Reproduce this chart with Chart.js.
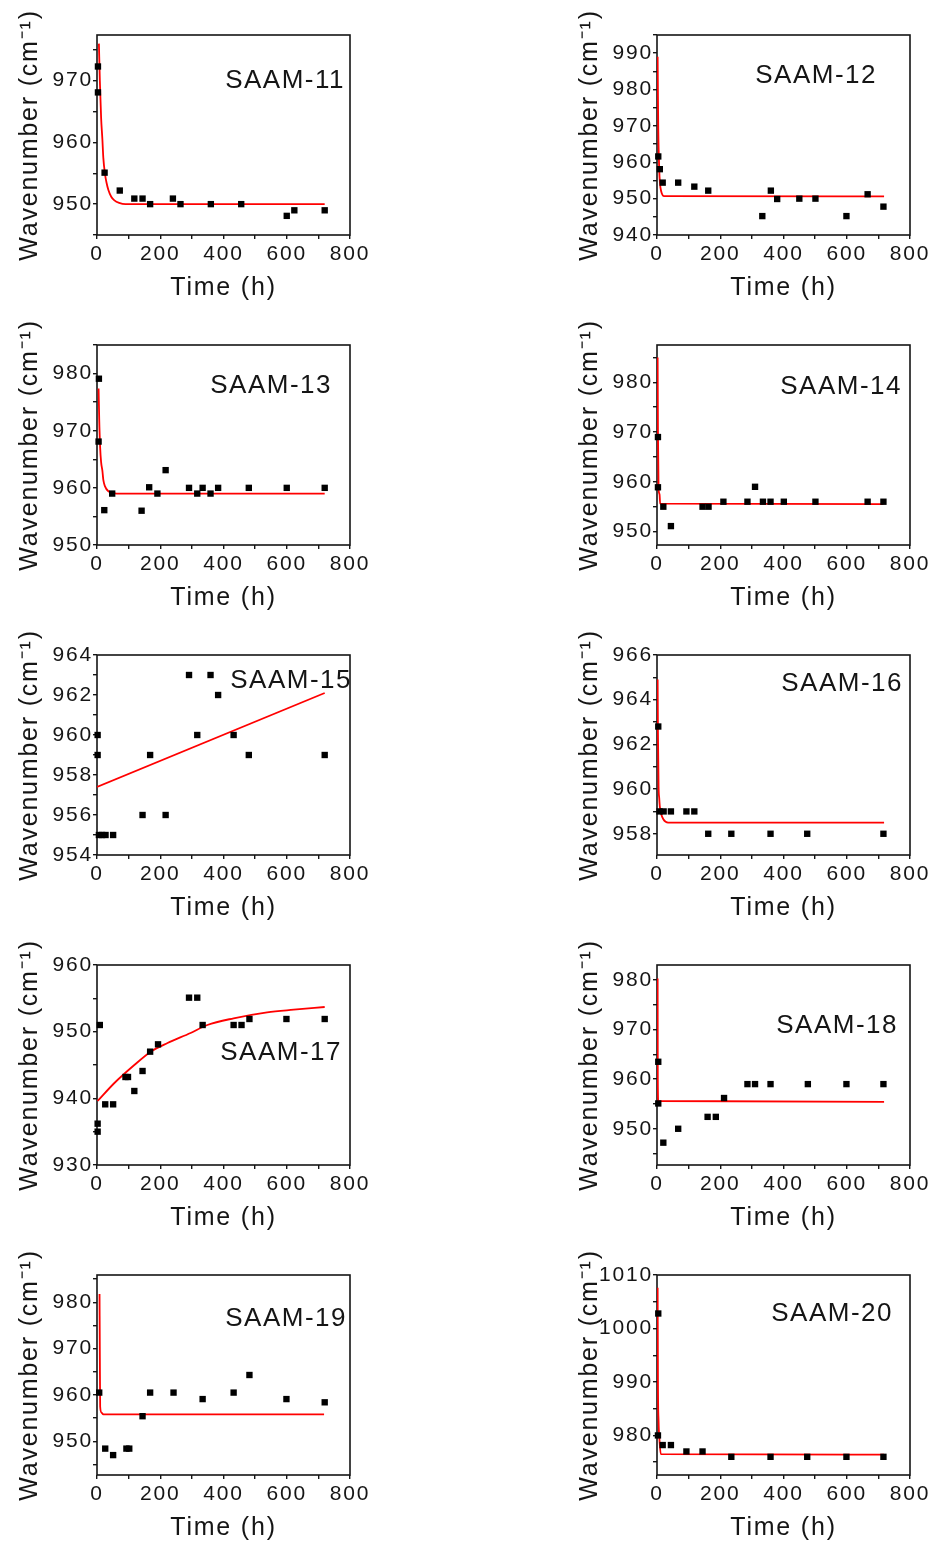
<!DOCTYPE html>
<html>
<head>
<meta charset="utf-8">
<script src="https://cdn.jsdelivr.net/npm/chart.js"></script>
<style>
  body { margin: 0; background: #fff; width: 936px; height: 1555px; position: relative; overflow: hidden; }
  canvas { position: absolute; }
</style>
</head>
<body>
<script>
// ---- data (time in h, wavenumber in cm-1) ----
const xTicks = [0, 200, 400, 600, 800];

const saam11Time = [3, 3, 24, 72, 118, 144, 168, 240, 264, 360, 456, 600, 624, 720];
const saam11Wave = [972.3, 968.1, 955.1, 952.2, 950.9, 950.9, 950, 950.9, 950, 950, 950, 948.1, 949, 949];
const saam11FitTime = [6, 9, 13, 17, 20, 25, 30, 36, 45, 55, 70, 90, 720];
const saam11FitWave = [976, 970, 964, 960.5, 957.5, 955, 953.5, 952.3, 951.2, 950.6, 950.2, 950, 950];

const saam12Time = [4, 9, 18, 67, 118, 162, 333, 360, 380, 450, 501, 599, 666, 716];
const saam12Wave = [961.6, 958.1, 954.4, 954.4, 953.3, 952.2, 945.2, 952.2, 949.9, 950, 950, 945.2, 951.2, 947.8];
const saam12FitTime = [2, 3, 4, 6, 8, 11, 15, 22, 718];
const saam12FitWave = [989, 978, 969, 961, 956, 953, 951.5, 950.7, 950.6];

const saam13Time = [6, 5, 23, 48, 141, 165, 191, 217, 291, 317, 334, 359, 383, 480, 600, 720];
const saam13Wave = [979.1, 968.1, 956.1, 959, 956, 960.1, 959, 963.1, 960, 959, 960, 959, 960, 960, 960, 960];
const saam13FitTime = [5, 7, 10, 13, 17, 20, 25, 36, 62, 720];
const saam13FitWave = [977.4, 972, 967, 964.5, 963, 961.4, 960.3, 959.4, 959, 959];

const saam14Time = [3, 3, 20, 44, 144, 163, 210, 286, 310, 335, 359, 401, 501, 666, 716];
const saam14Wave = [969, 958.9, 955, 951.1, 955, 955, 956, 956, 959, 956, 956, 956, 956, 956, 956];
const saam14FitTime = [2, 3, 5, 8, 10, 716];
const saam14FitWave = [985, 970, 958.5, 957.5, 955.6, 955.5];

const saam15Time = [2, 2, 6, 16, 27, 51, 144, 168, 217, 291, 317, 359, 383, 432, 480, 720];
const saam15Wave = [960, 959, 955, 955, 955, 955, 956, 959, 956, 963, 960, 963, 962, 960, 959, 959];
const saam15FitTime = [0, 720];
const saam15FitWave = [957.4, 962.1];

const saam16Time = [4, 8, 21, 44, 93, 118, 162, 235, 359, 475, 716];
const saam16Wave = [962.8, 959, 959, 959, 959, 959, 958, 958, 958, 958, 958];
const saam16FitTime = [2, 3, 5, 7, 9, 13, 20, 35, 718];
const saam16FitWave = [964.9, 962.5, 960.1, 959.6, 959.2, 958.9, 958.65, 958.5, 958.5];

const saam17Time = [2, 2, 9, 26, 51, 90, 98, 118, 144, 168, 193, 291, 317, 334, 432, 457, 482, 599, 720];
const saam17Wave = [936.2, 935, 951, 939.1, 939.1, 943.2, 943.2, 941.1, 944.1, 947, 948.1, 955.1, 955.1, 951, 951, 951, 951.9, 951.9, 951.9];
const saam17FitTime = [2, 55, 118, 170, 223, 296, 349, 432, 538, 622, 720];
const saam17FitWave = [939.6, 942.3, 945, 947, 948.3, 949.8, 951, 952, 952.9, 953.3, 953.7];

const saam18Time = [4, 4, 20, 67, 160, 186, 212, 286, 310, 359, 477, 599, 716];
const saam18Wave = [963.5, 955.1, 947.2, 950, 952.4, 952.4, 956.2, 959, 959, 959, 959, 959, 959];
const saam18FitTime = [2, 2.5, 4, 718];
const saam18FitWave = [980.3, 960, 955.6, 955.4];

const saam19Time = [7, 26, 51, 93, 102, 144, 168, 242, 334, 432, 482, 599, 720];
const saam19Wave = [960.5, 948.4, 947, 948.4, 948.4, 955.4, 960.5, 960.5, 959.1, 960.5, 964.3, 959.1, 958.4];
const saam19FitTime = [8, 9, 10, 14, 20, 718];
const saam19FitWave = [981.8, 968, 957.5, 956.2, 955.8, 955.8];

const saam20Time = [4, 3, 18, 44, 93, 144, 235, 359, 475, 599, 716];
const saam20Wave = [1002.8, 980, 978.2, 978.2, 977, 977, 976, 976, 976, 976, 976];
const saam20FitTime = [2, 3, 5, 8, 12, 718];
const saam20FitWave = [1007.6, 990, 982.6, 979, 976.5, 976.4];

// y axis ranges and major tick labels
const saam11Y = [945, 977.4], saam11Ticks = [950, 960, 970];
const saam12Y = [940, 995], saam12Ticks = [940, 950, 960, 970, 980, 990];
const saam13Y = [950, 985], saam13Ticks = [950, 960, 970, 980];
const saam14Y = [947.3, 987.5], saam14Ticks = [950, 960, 970, 980];
const saam15Y = [954, 964], saam15Ticks = [954, 956, 958, 960, 962, 964];
const saam16Y = [957.05, 966], saam16Ticks = [958, 960, 962, 964, 966];
const saam17Y = [930, 960], saam17Ticks = [930, 940, 950, 960];
const saam18Y = [942.7, 983], saam18Ticks = [950, 960, 970, 980];
const saam19Y = [942.7, 985.9], saam19Ticks = [950, 960, 970, 980];
const saam20Y = [972.6, 1010], saam20Ticks = [980, 990, 1000, 1010];

const panels = [
  { name: 'SAAM-11', t: saam11Time, w: saam11Wave, ft: saam11FitTime, fw: saam11FitWave, y: saam11Y, ticks: saam11Ticks },
  { name: 'SAAM-12', t: saam12Time, w: saam12Wave, ft: saam12FitTime, fw: saam12FitWave, y: saam12Y, ticks: saam12Ticks },
  { name: 'SAAM-13', t: saam13Time, w: saam13Wave, ft: saam13FitTime, fw: saam13FitWave, y: saam13Y, ticks: saam13Ticks },
  { name: 'SAAM-14', t: saam14Time, w: saam14Wave, ft: saam14FitTime, fw: saam14FitWave, y: saam14Y, ticks: saam14Ticks },
  { name: 'SAAM-15', t: saam15Time, w: saam15Wave, ft: saam15FitTime, fw: saam15FitWave, y: saam15Y, ticks: saam15Ticks },
  { name: 'SAAM-16', t: saam16Time, w: saam16Wave, ft: saam16FitTime, fw: saam16FitWave, y: saam16Y, ticks: saam16Ticks },
  { name: 'SAAM-17', t: saam17Time, w: saam17Wave, ft: saam17FitTime, fw: saam17FitWave, y: saam17Y, ticks: saam17Ticks },
  { name: 'SAAM-18', t: saam18Time, w: saam18Wave, ft: saam18FitTime, fw: saam18FitWave, y: saam18Y, ticks: saam18Ticks },
  { name: 'SAAM-19', t: saam19Time, w: saam19Wave, ft: saam19FitTime, fw: saam19FitWave, y: saam19Y, ticks: saam19Ticks },
  { name: 'SAAM-20', t: saam20Time, w: saam20Wave, ft: saam20FitTime, fw: saam20FitWave, y: saam20Y, ticks: saam20Ticks },
];

// where each panel name sits: [gap from right edge of plot, cap centre below plot top]
const labelSpots = [[5, 46], [33, 41], [18, 41], [8, 42], [-2, 26], [7, 29], [8, 88], [12, 61], [3, 44], [17, 39]];

const INK = '#151515';
const FONT = '"Liberation Sans", Arial, sans-serif';

// half-step minor ticks between (and just outside) the labelled ones
function withMinor(major, lo, hi) {
  const step = major[1] - major[0];
  const out = [];
  for (let v = major[0] - step; v <= major[major.length - 1] + step + 1e-9; v += step / 2) {
    if (v >= lo - 1e-9 && v <= hi + 1e-9) out.push(+v.toFixed(3));
  }
  return out;
}

const framePlugin = {
  id: 'frame',
  beforeDraw(chart) {
    chart.ctx.letterSpacing = '1.8px';
  },
  beforeDatasetsDraw(chart) {
    const { ctx, chartArea: a } = chart;
    ctx.save();
    ctx.strokeStyle = INK;
    ctx.lineWidth = 1.6;
    ctx.strokeRect(a.left, a.top, a.right - a.left, a.bottom - a.top);
    ctx.restore();
  },
  afterDatasetsDraw(chart, args, opts) {
    const { ctx, chartArea: a } = chart;
    ctx.save();
    ctx.letterSpacing = '1.5px';
    ctx.font = '26px ' + FONT;
    ctx.fillStyle = INK;
    ctx.textAlign = 'right';
    ctx.textBaseline = 'middle';
    ctx.fillText(opts.text, a.right - opts.dx, a.top + opts.dy);
    ctx.restore();
  }
};

panels.forEach((p, i) => {
  const col = i % 2, row = Math.floor(i / 2);
  const cv = document.createElement('canvas');
  cv.width = 376; cv.height = 310;
  cv.style.left = (col ? 560 : 0) + 'px';
  cv.style.top = (row * 310) + 'px';
  document.body.appendChild(cv);

  const yAll = withMinor(p.ticks, p.y[0], p.y[1]);
  const xAll = [0, 100, 200, 300, 400, 500, 600, 700, 800];

  new Chart(cv, {
    type: 'scatter',
    data: {
      datasets: [
        {
          data: p.t.map((t, k) => ({ x: t, y: p.w[k] })),
          pointStyle: 'rect', pointRadius: 4.5, pointBorderWidth: 0,
          backgroundColor: '#000', borderColor: '#000', clip: false
        },
        {
          type: 'line',
          data: p.ft.map((t, k) => ({ x: t, y: p.fw[k] })),
          borderColor: '#ff0000', borderWidth: 1.8, pointRadius: 0,
          cubicInterpolationMode: 'monotone', fill: false
        }
      ]
    },
    options: {
      responsive: false, animation: false, devicePixelRatio: 1,
      layout: { padding: { left: 0, top: 35, right: 26, bottom: 0 } },
      plugins: {
        legend: { display: false }, tooltip: { enabled: false },
        frame: { text: p.name, dx: labelSpots[i][0], dy: labelSpots[i][1] }
      },
      scales: {
        x: {
          type: 'linear', min: 0, max: 800,
          afterBuildTicks: s => { s.ticks = xAll.map(v => ({ value: v })); },
          afterFit: s => { s.height = 75; },
          grid: { drawOnChartArea: false, tickLength: 4, color: INK, lineWidth: 1.4 },
          border: { display: false },
          ticks: {
            autoSkip: false, maxRotation: 0, padding: 3, color: INK,
            font: { family: FONT, size: 21 },
            callback: v => xTicks.includes(v) ? String(v) : ''
          },
          title: { display: true, text: 'Time (h)', color: INK, font: { family: FONT, size: 25 }, padding: { top: 0, bottom: 7 } }
        },
        y: {
          type: 'linear', min: p.y[0], max: p.y[1],
          afterBuildTicks: s => { s.ticks = yAll.map(v => ({ value: v })); },
          afterFit: s => { s.width = 97; },
          grid: { drawOnChartArea: false, tickLength: 4, color: INK, lineWidth: 1.4 },
          border: { display: false },
          ticks: {
            autoSkip: false, padding: 0, color: INK,
            font: { family: FONT, size: 21 },
            callback: v => p.ticks.includes(v) ? String(v) : ''
          },
          title: { display: true, text: 'Wavenumber (cm\u207B\u00B9)', color: INK, font: { family: FONT, size: 25 }, padding: { top: 15, bottom: 0 } }
        }
      }
    },
    plugins: [framePlugin]
  });
});
</script>
</body>
</html>
